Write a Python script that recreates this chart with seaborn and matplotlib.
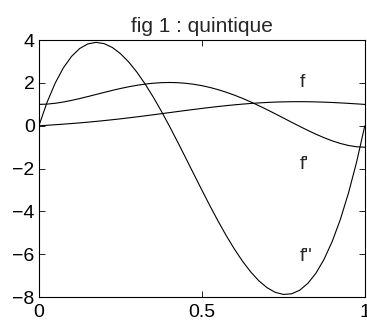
import matplotlib
matplotlib.use('Agg')
import matplotlib.pyplot as plt
import seaborn as sns
import pandas as pd

# values, x step 0.025
x = [0.000, 0.025, 0.050, 0.075, 0.100, 0.125, 0.150, 0.175, 0.200, 0.225,
     0.250, 0.275, 0.300, 0.325, 0.350, 0.375, 0.400, 0.425, 0.450, 0.475,
     0.500, 0.525, 0.550, 0.575, 0.600, 0.625, 0.650, 0.675, 0.700, 0.725,
     0.750, 0.775, 0.800, 0.825, 0.850, 0.875, 0.900, 0.925, 0.950, 0.975, 1.000]
f = [0.000, 0.025, 0.051, 0.078, 0.107, 0.137, 0.170, 0.206, 0.244, 0.284,
     0.326, 0.371, 0.417, 0.465, 0.514, 0.565, 0.615, 0.666, 0.716, 0.765,
     0.813, 0.858, 0.902, 0.943, 0.980, 1.014, 1.044, 1.070, 1.091, 1.108,
     1.119, 1.126, 1.128, 1.125, 1.117, 1.105, 1.090, 1.070, 1.049, 1.025, 1.000]
df1 = [1.000, 1.014, 1.053, 1.112, 1.187, 1.273, 1.366, 1.463, 1.560, 1.654,
       1.742, 1.822, 1.891, 1.947, 1.989, 2.015, 2.024, 2.015, 1.987, 1.941,
       1.875, 1.791, 1.688, 1.568, 1.432, 1.281, 1.116, 0.940, 0.755, 0.563,
       0.367, 0.170, -0.024, -0.212, -0.391, -0.555, -0.701, -0.824, -0.918, -0.979, -1.000]
df2 = [0.000, 1.097, 1.995, 2.706, 3.240, 3.609, 3.825, 3.898, 3.840, 3.662,
       3.375, 2.991, 2.520, 1.974, 1.365, 0.703, 0.000, -0.733, -1.485, -2.244,
       -3.000, -3.741, -4.455, -5.132, -5.760, -6.328, -6.825, -7.239, -7.560, -7.776,
       -7.875, -7.847, -7.680, -7.363, -6.885, -6.234, -5.400, -4.371, -3.135, -1.682, 0.000]

labels = ['f', "f'", "f''"]
label_x = [0.8, 0.8, 0.8]
label_y = [2.0, -1.8, -6.1]

sns.set_style('ticks')
plt.rcParams['font.family'] = ['Liberation Sans', 'DejaVu Sans']

fig = plt.figure(figsize=(3.67, 3.24), dpi=100)
ax = fig.add_axes([0.106, 0.083, 0.888, 0.793])

data = pd.DataFrame({'x': x, 'f': f, 'df1': df1, 'df2': df2})
for col in ['f', 'df1', 'df2']:
    sns.lineplot(data=data, x='x', y=col, ax=ax, color='black', linewidth=0.8)

for lab, lx, ly in zip(labels, label_x, label_y):
    ax.text(lx, ly, lab, fontsize=14, ha='left', va='center')

ax.set_xlim(0, 1)
ax.set_ylim(-8, 4)
ax.set_xticks([0, 0.5, 1])
ax.set_xticklabels(['0', '0.5', '1'])
ax.set_yticks([-8, -6, -4, -2, 0, 2, 4])
ax.set_yticklabels(['\u22128', '\u22126', '\u22124', '\u22122', '0', '2', '4'])
ax.set_xlabel('')
ax.set_ylabel('')
ax.tick_params(direction='in', length=4, width=0.6, labelsize=14,
               top=True, right=True, colors='black')
ax.tick_params(axis='x', pad=5)
ax.tick_params(axis='y', pad=3)
for s in ax.spines.values():
    s.set_visible(True)
    s.set_linewidth(0.8)
    s.set_color('black')
ax.set_title('fig 1 : quintique', fontsize=15, pad=6)

fig.savefig('out.png', dpi=100)
